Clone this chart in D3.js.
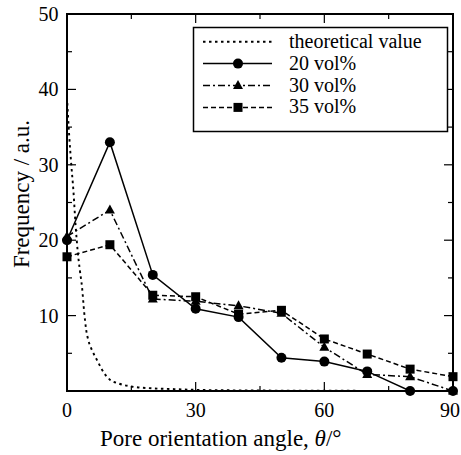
<!DOCTYPE html>
<html>
<head>
<meta charset="utf-8">
<script src="https://cdn.jsdelivr.net/npm/d3@7"></script>
<style>
  html, body { margin: 0; padding: 0; background: #fff; }
</style>
</head>
<body>
<div id="chart"></div>
<script>
// measured angles (deg)
const angles = [0, 10, 20, 30, 40, 50, 60, 70, 80, 90];
const vol20 = [20, 33, 15.4, 10.9, 9.8, 4.4, 3.9, 2.6, 0, 0];
const vol30 = [20.5, 24, 12.2, 11.9, 11.3, 10.3, 5.8, 2.2, 1.9, 0];
const vol35 = [17.8, 19.4, 12.7, 12.5, 10.2, 10.7, 6.9, 4.9, 2.9, 1.9];

// theoretical curve
const theoryAngles = [0, 0.5, 1, 1.5, 2, 2.5, 3, 3.5, 4, 4.5, 5, 6, 7, 8, 9, 10, 12, 15, 20, 25, 30, 40, 50, 70, 90];
const theoryValues = [39, 34, 30, 26.5, 22, 18.5, 16, 13.8, 10.5, 8, 6.7, 5.2, 4.1, 3, 2.1, 1.5, 1.0, 0.6, 0.35, 0.25, 0.15, 0.08, 0.05, 0.02, 0];

const xTicks = [0, 30, 60, 90];
const yTicks = [10, 20, 30, 40, 50];

const series = [
  { name: "20 vol%", values: vol20, dash: null, marker: "circle" },
  { name: "30 vol%", values: vol30, dash: "7 3 2 3", marker: "triangle" },
  { name: "35 vol%", values: vol35, dash: "5 3", marker: "square" }
];

const width = 461, height = 455;
const margin = { top: 14, right: 8, bottom: 64, left: 67 };
const fontFamily = '"Liberation Serif"';
const dotted = "2.5 3.5";

const svg = d3.select("#chart").append("svg")
  .attr("width", width)
  .attr("height", height)
  .style("font-family", fontFamily);

const x = d3.scaleLinear().domain([0, 90]).range([margin.left, width - margin.right]);
const y = d3.scaleLinear().domain([0, 50]).range([height - margin.bottom, margin.top]);

const x0 = x(0), x1 = x(90), y0 = y(0), y1 = y(50);

// frame
svg.append("rect")
  .attr("x", x0).attr("y", y1)
  .attr("width", x1 - x0).attr("height", y0 - y1)
  .attr("fill", "none").attr("stroke", "#000").attr("stroke-width", 2);

// inward ticks on all four sides
const ticks = svg.append("g").attr("stroke", "#000").attr("stroke-width", 1.2);
d3.range(0, 91, 15).forEach(v => {
  if (v === 0 || v === 90) return;
  const len = v % 30 === 0 ? 9 : 5;
  ticks.append("line").attr("x1", x(v)).attr("x2", x(v)).attr("y1", y0).attr("y2", y0 - len);
  ticks.append("line").attr("x1", x(v)).attr("x2", x(v)).attr("y1", y1).attr("y2", y1 + len);
});
d3.range(5, 50, 5).forEach(v => {
  const len = v % 10 === 0 ? 9 : 5;
  ticks.append("line").attr("y1", y(v)).attr("y2", y(v)).attr("x1", x0).attr("x2", x0 + len);
  ticks.append("line").attr("y1", y(v)).attr("y2", y(v)).attr("x1", x1).attr("x2", x1 - len);
});

// tick labels (last one pulled in so it stays on the page)
svg.append("g").selectAll("text").data(xTicks).join("text")
  .attr("x", d => d === 90 ? x(d) + 7 : x(d)).attr("y", y0 + 26)
  .attr("text-anchor", d => d === 90 ? "end" : "middle").attr("font-size", 20)
  .style("font-family", fontFamily)
  .text(d => d);

svg.append("g").selectAll("text").data(yTicks).join("text")
  .attr("x", x0 - 8.5).attr("y", d => y(d) + 7)
  .attr("text-anchor", "end").attr("font-size", 20)
  .style("font-family", fontFamily)
  .text(d => d);

// axis titles
const xt = svg.append("text")
  .attr("x", 100).attr("y", 446)
  .attr("font-size", 23)
  .style("font-family", fontFamily);
xt.append("tspan").text("Pore orientation angle, ");
xt.append("tspan").attr("font-style", "italic").text("θ");
xt.append("tspan").text("/°");

svg.append("text")
  .attr("transform", "translate(29, 194) rotate(-90)")
  .attr("text-anchor", "middle").attr("font-size", 23)
  .style("font-family", fontFamily)
  .text("Frequency / a.u.");

// plot clip
svg.append("clipPath").attr("id", "plot-clip")
  .append("rect").attr("x", x0).attr("y", y1).attr("width", x1 - x0).attr("height", y0 - y1);

const plot = svg.append("g").attr("clip-path", "url(#plot-clip)");

// theoretical (dotted)
plot.append("path")
  .datum(theoryAngles.map((a, i) => [a, theoryValues[i]]))
  .attr("fill", "none").attr("stroke", "#000")
  .attr("stroke-width", 1.9).attr("stroke-dasharray", dotted)
  .attr("d", d3.line().x(d => x(d[0])).y(d => y(d[1])).curve(d3.curveMonotoneX));

function drawMarker(g, kind, cx, cy) {
  if (kind === "circle") {
    g.append("circle").attr("cx", cx).attr("cy", cy).attr("r", 5).attr("fill", "#000");
  } else if (kind === "triangle") {
    g.append("path")
      .attr("d", `M${cx},${cy - 5.5} L${cx + 5},${cy + 3.5} L${cx - 5},${cy + 3.5} Z`)
      .attr("fill", "#000");
  } else {
    const s = 4.5;
    g.append("rect").attr("x", cx - s).attr("y", cy - s).attr("width", 2 * s).attr("height", 2 * s).attr("fill", "#000");
  }
}

const lines = svg.append("g");
const marks = svg.append("g");
series.forEach(s => {
  const pts = angles.map((a, i) => [a, s.values[i]]);
  lines.append("path")
    .datum(pts)
    .attr("fill", "none").attr("stroke", "#000").attr("stroke-width", 1.5)
    .attr("stroke-dasharray", s.dash)
    .attr("d", d3.line().x(d => x(d[0])).y(d => y(d[1])));
  pts.forEach(p => drawMarker(marks, s.marker, x(p[0]), y(p[1])));
});

// legend
const legend = svg.append("g");
legend.append("rect")
  .attr("x", 193.5).attr("y", 27.5).attr("width", 254).attr("height", 104)
  .attr("fill", "#fff").attr("stroke", "#000").attr("stroke-width", 1.5);

const legendItems = [
  { name: "theoretical value", dash: dotted, marker: null, width: 1.9 },
  ...series.map(s => ({ name: s.name, dash: s.dash, marker: s.marker, width: 1.5 }))
];
legendItems.forEach((it, i) => {
  const cy = 41.7 + i * 21.9;
  legend.append("line")
    .attr("x1", 203).attr("x2", 272).attr("y1", cy).attr("y2", cy)
    .attr("stroke", "#000").attr("stroke-width", it.width)
    .attr("stroke-dasharray", it.dash);
  if (it.marker) drawMarker(legend, it.marker, 238, cy);
  legend.append("text")
    .attr("x", 289).attr("y", cy + 6)
    .attr("font-size", 20)
    .style("font-family", fontFamily)
    .text(it.name);
});
</script>
</body>
</html>
